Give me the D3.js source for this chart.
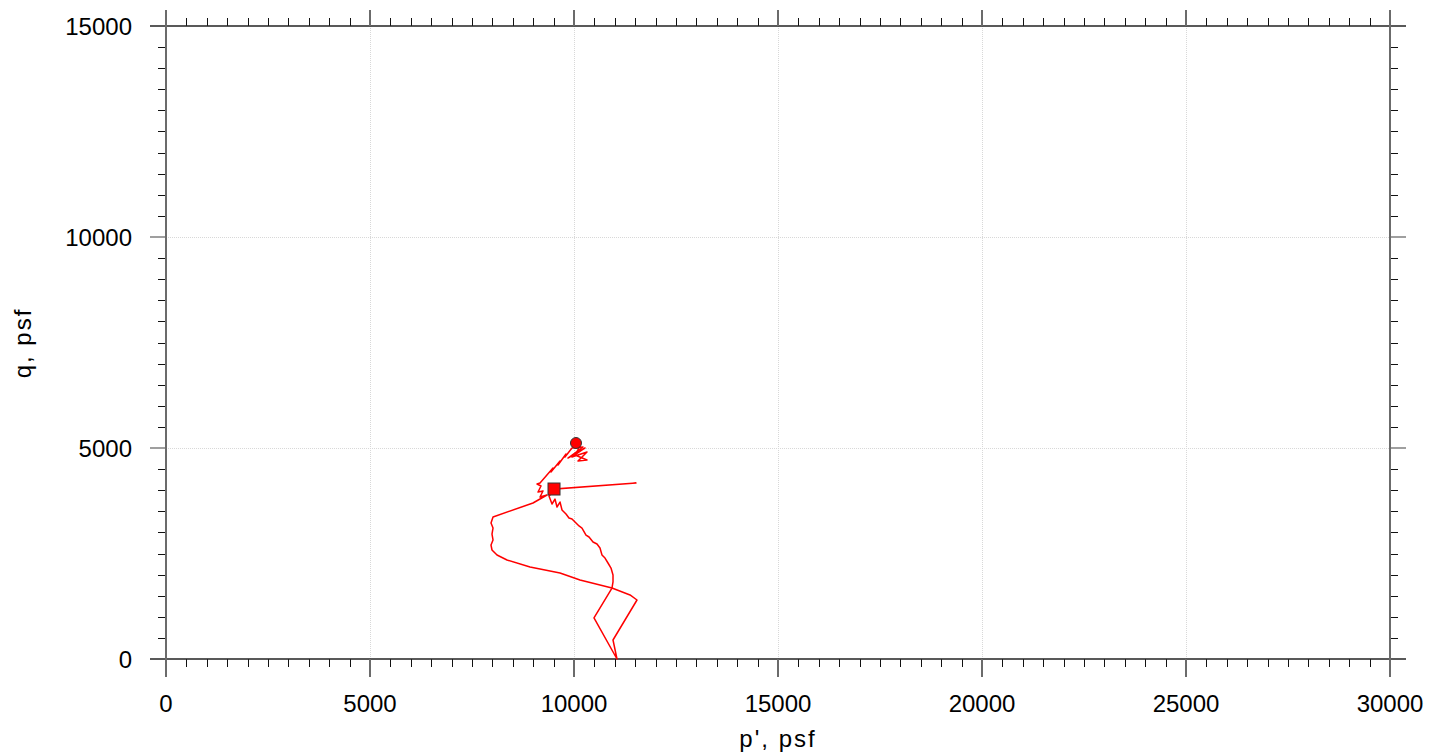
<!DOCTYPE html>
<html>
<head>
    <title>p'-q stress path</title>
    <script src="https://d3js.org/d3.v7.min.js"></script>
    <style>
        body { margin: 0; background: #fff; }
        .tick-label { font: 24px "Liberation Sans", Arial, sans-serif; fill: #000; }
        .axis-title { font: 24px "Liberation Sans", Arial, sans-serif; fill: #000; letter-spacing: 2px; }
        .grid { stroke: #d8d8d8; stroke-width: 1; stroke-dasharray: 1,1; }
    </style>
</head>
<body>
<script>
    // stress path, p' (psf) and q (psf)
    var pValues = [9510, 11520, 9559, 9387, 9461, 9534, 9583, 9657, 9706, 9804, 9877, 9951, 10025, 10123,
        10196, 10294, 10368, 10466, 10564, 10637, 10686, 10760, 10833, 10907, 10956, 10956, 10931, 10490,
        11054, 10956, 11544, 11373, 10931, 10147, 9657, 8922, 8358, 8113, 7990, 7966, 8015, 7990, 8015,
        7966, 8015, 8995, 9338, 9167, 9240, 9118, 9191, 9093, 9167, 9485, 9436, 9657, 9608, 9804, 9779,
        9951, 10221, 9853, 10270, 9951, 10319, 10098, 10319, 10025, 10147, 10049];
    var qValues = [4028, 4171, 4028, 3863, 3673, 3791, 3602, 3720, 3531, 3436, 3341, 3318, 3246, 3152,
        3104, 2938, 2891, 2773, 2725, 2630, 2464, 2393, 2275, 2156, 1991, 1825, 1682, 972,
        0, 450, 1398, 1517, 1682, 1872, 2038, 2180, 2346, 2464, 2583, 2701, 2820, 2962, 3104,
        3223, 3365, 3697, 3886, 3839, 3981, 3957, 4100, 4147, 4171, 4526, 4431, 4692, 4597, 4858, 4787,
        5000, 5024, 4763, 5000, 4787, 4905, 4692, 4716, 4834, 5047, 5118];
    var xTicks = [0, 5000, 10000, 15000, 20000, 25000, 30000];
    var yTicks = [0, 5000, 10000, 15000];

    var width = 1442, height = 756;
    var mLeft = 166, mRight = 1390, mTop = 26, mBottom = 659;
    var major = 16, minor = 8;

    var svg = d3.select("body").append("svg")
        .attr("width", width)
        .attr("height", height);

    var x = d3.scaleLinear().domain([0, 30000]).range([mLeft, mRight]);
    var y = d3.scaleLinear().domain([0, 15000]).range([mBottom, mTop]);

    var xMinor = d3.range(0, 30001, 500).filter(function(v) { return v % 5000 !== 0; });
    var yMinor = d3.range(0, 15001, 500).filter(function(v) { return v % 5000 !== 0; });

    // grid lines
    svg.append("g").selectAll("line")
        .data(xTicks.slice(1, -1))
        .enter().append("line")
        .attr("class", "grid")
        .attr("x1", function(d) { return Math.round(x(d)) + 0.5; })
        .attr("x2", function(d) { return Math.round(x(d)) + 0.5; })
        .attr("y1", mTop).attr("y2", mBottom);

    svg.append("g").selectAll("line")
        .data(yTicks.slice(1, -1))
        .enter().append("line")
        .attr("class", "grid")
        .attr("y1", function(d) { return Math.round(y(d)) + 0.5; })
        .attr("y2", function(d) { return Math.round(y(d)) + 0.5; })
        .attr("x1", mLeft).attr("x2", mRight);

    var frame = svg.append("g");

    // minor ticks, black, pointing outward
    frame.selectAll(".mx").data(xMinor).enter().append("line")
        .attr("x1", function(d) { return Math.round(x(d)) + 0.5; })
        .attr("x2", function(d) { return Math.round(x(d)) + 0.5; })
        .attr("y1", mBottom).attr("y2", mBottom + minor)
        .attr("stroke", "#111").attr("stroke-width", 1);
    frame.selectAll(".mxt").data(xMinor).enter().append("line")
        .attr("x1", function(d) { return Math.round(x(d)) + 0.5; })
        .attr("x2", function(d) { return Math.round(x(d)) + 0.5; })
        .attr("y1", mTop).attr("y2", mTop - minor)
        .attr("stroke", "#111").attr("stroke-width", 1);
    frame.selectAll(".my").data(yMinor).enter().append("line")
        .attr("y1", function(d) { return Math.round(y(d)) + 0.5; })
        .attr("y2", function(d) { return Math.round(y(d)) + 0.5; })
        .attr("x1", mLeft).attr("x2", mLeft - minor)
        .attr("stroke", "#111").attr("stroke-width", 1);
    frame.selectAll(".myr").data(yMinor).enter().append("line")
        .attr("y1", function(d) { return Math.round(y(d)) + 0.5; })
        .attr("y2", function(d) { return Math.round(y(d)) + 0.5; })
        .attr("x1", mRight).attr("x2", mRight + minor)
        .attr("stroke", "#111").attr("stroke-width", 1);

    // horizontal frame lines (bottom and top), dark, running past the corners
    [0, 15000].forEach(function(v) {
        frame.append("line")
            .attr("x1", mLeft - major).attr("x2", mRight + major)
            .attr("y1", y(v)).attr("y2", y(v))
            .attr("stroke", "#222").attr("stroke-width", 1.5);
    });

    // major ticks, gray, longer
    frame.selectAll(".Mx").data(xTicks).enter().append("line")
        .attr("x1", function(d) { return x(d); })
        .attr("x2", function(d) { return x(d); })
        .attr("y1", mBottom).attr("y2", mBottom + major + 2)
        .attr("stroke", "#6b6b6b").attr("stroke-width", 2);
    frame.selectAll(".Mxt").data(xTicks).enter().append("line")
        .attr("x1", function(d) { return x(d); })
        .attr("x2", function(d) { return x(d); })
        .attr("y1", mTop).attr("y2", mTop - major)
        .attr("stroke", "#6b6b6b").attr("stroke-width", 2);
    frame.selectAll(".My").data(yTicks.slice(1, -1)).enter().append("line")
        .attr("y1", function(d) { return y(d); })
        .attr("y2", function(d) { return y(d); })
        .attr("x1", mLeft - major).attr("x2", mLeft)
        .attr("stroke", "#6b6b6b").attr("stroke-width", 1.3);
    frame.selectAll(".Myr").data(yTicks.slice(1, -1)).enter().append("line")
        .attr("y1", function(d) { return y(d); })
        .attr("y2", function(d) { return y(d); })
        .attr("x1", mRight).attr("x2", mRight + major)
        .attr("stroke", "#6b6b6b").attr("stroke-width", 1.3);

    // vertical frame lines
    [mLeft, mRight].forEach(function(px) {
        frame.append("line")
            .attr("x1", px).attr("x2", px)
            .attr("y1", mTop - major).attr("y2", mBottom + major + 2)
            .attr("stroke", "#6b6b6b").attr("stroke-width", 2);
    });

    // tick labels
    svg.append("g").selectAll("text")
        .data(xTicks).enter().append("text")
        .attr("class", "tick-label")
        .attr("x", function(d) { return x(d); })
        .attr("y", 712)
        .attr("text-anchor", "middle")
        .text(function(d) { return d; });

    svg.append("g").selectAll("text")
        .data(yTicks).enter().append("text")
        .attr("class", "tick-label")
        .attr("x", 132)
        .attr("y", function(d) { return y(d) + 9; })
        .attr("text-anchor", "end")
        .text(function(d) { return d; });

    // axis titles
    svg.append("text")
        .attr("class", "axis-title")
        .attr("x", 778).attr("y", 747)
        .attr("text-anchor", "middle")
        .text("p', psf");

    svg.append("text")
        .attr("class", "axis-title")
        .attr("transform", "translate(31,343) rotate(-90)")
        .attr("text-anchor", "middle")
        .text("q, psf");

    // stress path
    var pts = pValues.map(function(p, i) { return [p, qValues[i]]; });

    var line = d3.line()
        .x(function(d) { return x(d[0]); })
        .y(function(d) { return y(d[1]); });

    svg.append("path")
        .datum(pts)
        .attr("fill", "none")
        .attr("stroke", "#ff0000")
        .attr("stroke-width", 1.5)
        .attr("stroke-linejoin", "round")
        .attr("d", line);

    var first = pts[0], last = pts[pts.length - 1];

    svg.append("rect")
        .attr("x", x(first[0]) - 6)
        .attr("y", y(first[1]) - 6)
        .attr("width", 12).attr("height", 12)
        .attr("fill", "#ff0000")
        .attr("stroke", "#333")
        .attr("stroke-width", 1);

    svg.append("circle")
        .attr("cx", x(last[0]))
        .attr("cy", y(last[1]))
        .attr("r", 5.5)
        .attr("fill", "#ff0000")
        .attr("stroke", "#333")
        .attr("stroke-width", 1);
</script>
</body>
</html>
